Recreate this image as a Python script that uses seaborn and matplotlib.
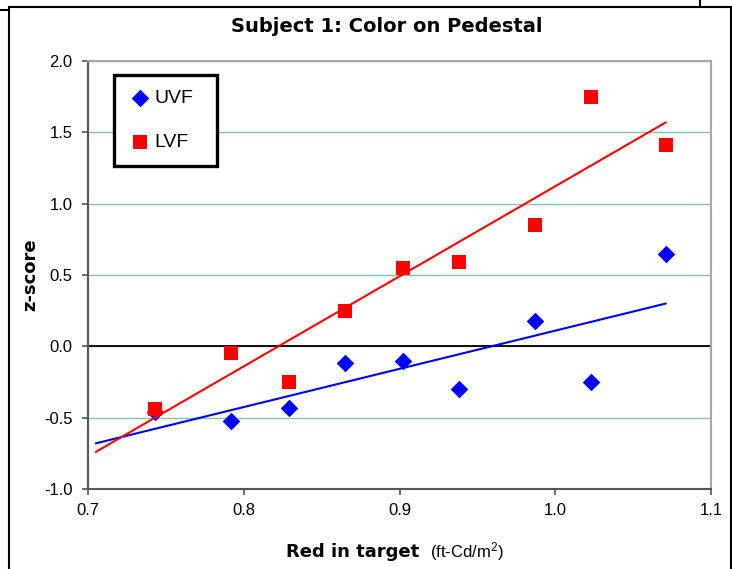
import numpy as np
import pandas as pd
import matplotlib
matplotlib.use("Agg")
import matplotlib.pyplot as plt
import seaborn as sns
from matplotlib.lines import Line2D
from matplotlib.patches import Rectangle

# ---- data ----
red_in_target = [0.743, 0.792, 0.829, 0.865, 0.902, 0.938, 0.987, 1.023, 1.071]
uvf_z = [-0.46, -0.52, -0.43, -0.12, -0.10, -0.30, 0.18, -0.25, 0.65]
lvf_z = [-0.44, -0.05, -0.25, 0.25, 0.55, 0.59, 0.85, 1.75, 1.41]
trend_x = [0.705, 1.071]
uvf_trend = [-0.68, 0.30]
lvf_trend = [-0.74, 1.57]
series_names = ["UVF", "LVF"]
x_ticks = [0.7, 0.8, 0.9, 1.0, 1.1]
y_ticks = [-1.0, -0.5, 0.0, 0.5, 1.0, 1.5, 2.0]
title = "Subject 1: Color on Pedestal"
xlabel_main = "Red in target"
xlabel_unit = "(ft-Cd/m$^2$)"
ylabel = "z-score"

W, H = 732, 569
sns.set_theme(style="white")
plt.rcParams['font.family'] = ['Liberation Sans', 'DejaVu Sans']
plt.rcParams['axes.unicode_minus'] = False
plt.rcParams['mathtext.default'] = 'regular'
plt.rcParams['text.color'] = 'black'
plt.rcParams['axes.labelcolor'] = 'black'
plt.rcParams['xtick.color'] = 'black'
plt.rcParams['ytick.color'] = 'black'

fig = plt.figure(figsize=(W / 100, H / 100), dpi=100)
fig.patch.set_facecolor('white')


def fx(px):
    return px / W


def fy(py):
    return 1 - py / H


ax = fig.add_axes([fx(88), fy(489), fx(711) - fx(88), fy(61) - fy(489)])
ax.set_facecolor('white')

uvf_df = pd.DataFrame({"x": red_in_target, "z": uvf_z})
lvf_df = pd.DataFrame({"x": red_in_target, "z": lvf_z})
uvf_tr = pd.DataFrame({"x": trend_x, "z": uvf_trend})
lvf_tr = pd.DataFrame({"x": trend_x, "z": lvf_trend})

blue, red = "#0000ff", "#ff0000"

sns.scatterplot(data=uvf_df, x="x", y="z", marker="D", s=80, color=blue,
                linewidth=0, ax=ax, label=series_names[0], zorder=4)
sns.scatterplot(data=lvf_df, x="x", y="z", marker="s", s=100, color=red,
                linewidth=0, ax=ax, label=series_names[1], zorder=5)
sns.lineplot(data=uvf_tr, x="x", y="z", color=blue, linewidth=1.5, ax=ax,
             zorder=6, legend=False)
sns.lineplot(data=lvf_tr, x="x", y="z", color=red, linewidth=1.5, ax=ax,
             zorder=6, legend=False)

ax.set_xlim(0.7, 1.1)
ax.set_ylim(-1.0, 2.0)
ax.set_xticks(x_ticks)
ax.set_yticks(y_ticks)
ax.set_xticklabels([f"{v:.1f}" for v in x_ticks])
ax.set_yticklabels([f"{v:.1f}" for v in y_ticks])
ax.tick_params(axis='both', which='major', direction='out', length=4,
               width=1.2, color='#555555', labelsize=12, labelcolor='black')
ax.tick_params(axis='y', pad=7, left=True)
ax.tick_params(axis='x', pad=6, bottom=True)

ax.grid(axis='y', color='#86c2a2', linewidth=1.0, zorder=1)
ax.grid(axis='x', visible=False)
ax.set_axisbelow(True)
ax.axhline(0, color='black', linewidth=1.3, zorder=2)

for side in ['left', 'bottom']:
    ax.spines[side].set_color('#555555')
    ax.spines[side].set_linewidth(1.5)
for side in ['top', 'right']:
    ax.spines[side].set_color('#a6a6a6')
    ax.spines[side].set_linewidth(1.5)

ax.set_xlabel("")
ax.set_ylabel("")

# legend
x0 = (114 - 88) / 623
w = (217 - 114) / 623
ytop = (489 - 75) / 428
ybot = (489 - 168) / 428
leg = ax.legend(loc='upper left', bbox_to_anchor=(x0, ybot, w, ytop - ybot),
                mode='expand', borderaxespad=0, fontsize=14, frameon=True,
                fancybox=False, edgecolor='black', framealpha=1,
                borderpad=0.75, labelspacing=1.35, handlelength=1.2,
                handletextpad=0.15, markerscale=1.0)
leg.get_frame().set_linewidth(2.4)
leg.set_zorder(10)
for t in leg.get_texts():
    t.set_color('black')

# title and axis labels
fig.text(fx(386.5), fy(27), title, ha='center', va='center',
         fontsize=14, fontweight='bold', family=['DejaVu Sans'])
fig.text(fx(286), fy(557), xlabel_main, ha='left', va='baseline',
         fontsize=13, fontweight='bold', family=['DejaVu Sans'])
fig.text(fx(430), fy(557), xlabel_unit, ha='left', va='baseline',
         fontsize=12)
fig.text(fx(30), fy(275), ylabel, ha='center', va='center', rotation=90,
         fontsize=13, fontweight='bold', family=['DejaVu Sans'])

# outer chart frame and neighbouring frame edges
fig.add_artist(Rectangle((fx(9), fy(620)), fx(730.5) - fx(9), fy(7) - fy(620),
                         transform=fig.transFigure, fill=False,
                         edgecolor='black', linewidth=1.5, clip_on=False))
fig.add_artist(Line2D([0, fx(9)], [fy(9.5), fy(9.5)], transform=fig.transFigure,
                      color='black', linewidth=1.5))
fig.add_artist(Line2D([fx(700), fx(700)], [fy(0), fy(7)], transform=fig.transFigure,
                      color='black', linewidth=1.5))

fig.savefig("out.png", dpi=100)
